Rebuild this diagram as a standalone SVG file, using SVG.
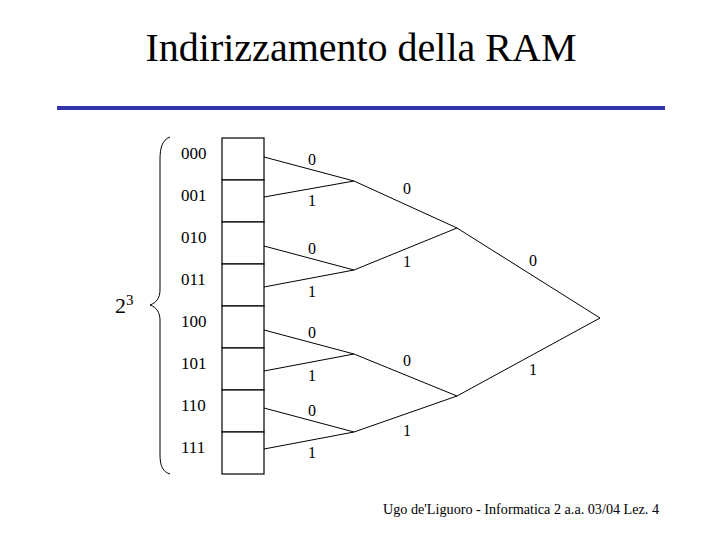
<svg xmlns="http://www.w3.org/2000/svg" width="720" height="540" viewBox="0 0 720 540">
<style>
text{font-family:"Liberation Serif","Times New Roman",serif;fill:#000}
.addr{font-size:17px}
.bit{font-size:16px;text-anchor:middle}
.ln{stroke:#000;stroke-width:1;fill:none}
.cell{fill:#fff;stroke:#000;stroke-width:1.2}
</style>
<rect width="720" height="540" fill="#fff"/>
<g id="title">
<text x="361" y="61" font-size="40" text-anchor="middle">Indirizzamento della RAM</text>
<rect x="57" y="106" width="608" height="4" fill="#3333aa"/>
</g>
<g id="memory">
<rect class="cell" x="222" y="138" width="42" height="42"/>
<rect class="cell" x="222" y="180" width="42" height="42"/>
<rect class="cell" x="222" y="222" width="42" height="42"/>
<rect class="cell" x="222" y="264" width="42" height="42"/>
<rect class="cell" x="222" y="306" width="42" height="42"/>
<rect class="cell" x="222" y="348" width="42" height="42"/>
<rect class="cell" x="222" y="390" width="42" height="42"/>
<rect class="cell" x="222" y="432" width="42" height="42"/>
</g>
<g id="addresses">
<text class="addr" x="181" y="159">000</text>
<text class="addr" x="181" y="201">001</text>
<text class="addr" x="181" y="243">010</text>
<text class="addr" x="181" y="285">011</text>
<text class="addr" x="181" y="327">100</text>
<text class="addr" x="181" y="369">101</text>
<text class="addr" x="181" y="411">110</text>
<text class="addr" x="181" y="453">111</text>
</g>
<g id="brace">
<path class="ln" d="M170,137 C162,140 160,148 160,160 L160,290 C160,298 156,303 150,305 C156,307 160,312 160,320 L160,455 C160,466 163,472 170,474"/>
<text x="115" y="313" font-size="22">2</text>
<text x="126" y="305" font-size="15">3</text>
</g>
<g id="connectors">
<polyline class="ln" points="264,157 354,181 264,197"/>
<polyline class="ln" points="264,246 354,270 264,287"/>
<polyline class="ln" points="264,330 354,354 264,371"/>
<polyline class="ln" points="264,408 354,432 264,449"/>
<polyline class="ln" points="354,181 457,228 354,270"/>
<polyline class="ln" points="354,354 457,396 354,432"/>
<polyline class="ln" points="457,228 600,318 457,396"/>
</g>
<g id="labels">
<text class="bit" x="312" y="165">0</text>
<text class="bit" x="312" y="206">1</text>
<text class="bit" x="407" y="194">0</text>
<text class="bit" x="312" y="254">0</text>
<text class="bit" x="407" y="267">1</text>
<text class="bit" x="312" y="297">1</text>
<text class="bit" x="533" y="266">0</text>
<text class="bit" x="312" y="338">0</text>
<text class="bit" x="407" y="366">0</text>
<text class="bit" x="312" y="381">1</text>
<text class="bit" x="533" y="375">1</text>
<text class="bit" x="312" y="416">0</text>
<text class="bit" x="407" y="436">1</text>
<text class="bit" x="312" y="458">1</text>
</g>
<g id="footer">
<text x="383" y="514" font-size="14" textLength="276" lengthAdjust="spacingAndGlyphs">Ugo de'Liguoro - Informatica 2 a.a. 03/04 Lez. 4</text>
</g>
</svg>
